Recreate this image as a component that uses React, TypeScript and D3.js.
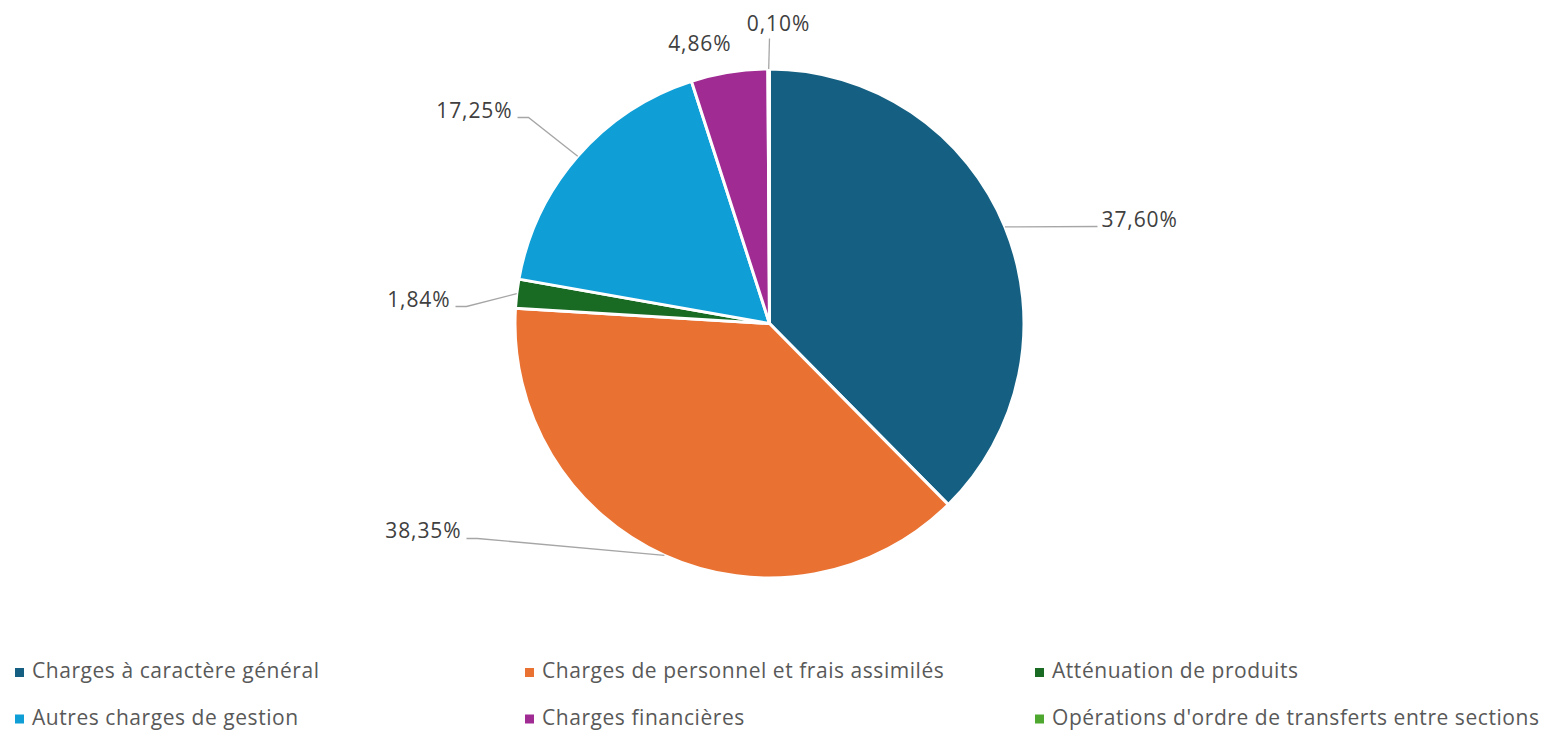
import React from "react";
import * as d3 from "d3";

const categories = [
  "Charges à caractère général",
  "Charges de personnel et frais assimilés",
  "Atténuation de produits",
  "Autres charges de gestion",
  "Charges financières",
  "Opérations d'ordre de transferts entre sections",
];
const values = [37.6, 38.35, 1.84, 17.25, 4.86, 0.1];
const valueLabels = ["37,60%", "38,35%", "1,84%", "17,25%", "4,86%", "0,10%"];
const colors = ["#156082", "#E97132", "#196B24", "#0F9ED5", "#A02B93", "#4EA72E"];

// legend order (row-major, 3 columns)
const legendOrder = [0, 1, 2, 3, 4, 5];

// label layout, relative to pie center: text anchor point + leader elbow points
const labelLayout = [
  { dx: 332, dy: -97, anchor: "start", leader: [[328, -97]] },
  { dx: -308, dy: 214, anchor: "end", leader: [[-292, 215], [-303, 215]] },
  { dx: -319, dy: -17, anchor: "end", leader: [[-303, -17], [-314, -17]] },
  { dx: -257, dy: -206, anchor: "end", leader: [[-241, -206], [-252, -206]] },
  { dx: -38, dy: -273, anchor: "end", leader: [] },
  { dx: 9, dy: -293, anchor: "middle", leader: [[0, -285]] },
];

const W = 1543;
const H = 730;
const cx = 769.5;
const cy = 323.5;
const R = 254.5;
const FONT = "'Open Sans', 'Liberation Sans', sans-serif";

export default function App() {
  const pie = d3.pie<number>().sort(null).value((d) => d);
  const arcs = pie(values);
  const arcGen = d3.arc<d3.PieArcDatum<number>>().innerRadius(0).outerRadius(R);
  const line = d3.line();

  const legendX = d3.scaleBand<number>().domain([0, 1, 2]).range([15, 15 + 3 * 510]);
  const legendY = d3.scaleBand<number>().domain([0, 1]).range([671, 671 + 2 * 46.5]);

  return (
    <svg
      width={W}
      height={H}
      style={{ position: "fixed", left: 0, top: 0, background: "#fff" }}
      fontFamily={FONT}
    >
      <g transform={`translate(${cx},${cy})`}>
        {arcs.map((a, i) => (
          <path key={i} d={arcGen(a) || ""} fill={colors[i]} stroke="#fff" strokeWidth={3} strokeLinejoin="round" />
        ))}
        {arcs.map((a, i) => {
          const mid = (a.startAngle + a.endAngle) / 2;
          const p: [number, number] = [R * Math.sin(mid), -R * Math.cos(mid)];
          const L = labelLayout[i];
          const pts = [p, ...(L.leader as [number, number][])];
          return (
            <g key={i}>
              {L.leader.length > 0 && (
                <path d={line(pts) || ""} fill="none" stroke="#A6A6A6" strokeWidth={1.3} />
              )}
              <text
                x={L.dx}
                y={L.dy}
                textAnchor={L.anchor}
                fontSize={21}
                letterSpacing={0.9}
                fill="#404040"
              >
                {valueLabels[i]}
              </text>
            </g>
          );
        })}
      </g>
      {legendOrder.map((idx, k) => {
        const col = k % 3;
        const row = Math.floor(k / 3);
        const x = legendX(col)!;
        const y = legendY(row)!;
        return (
          <g key={idx} transform={`translate(${x},${y})`}>
            <rect x={0} y={-3} width={9} height={9} fill={colors[idx]} />
            <text x={17} y={7} fontSize={21} letterSpacing={0.55} fill="#595959">
              {categories[idx]}
            </text>
          </g>
        );
      })}
    </svg>
  );
}
